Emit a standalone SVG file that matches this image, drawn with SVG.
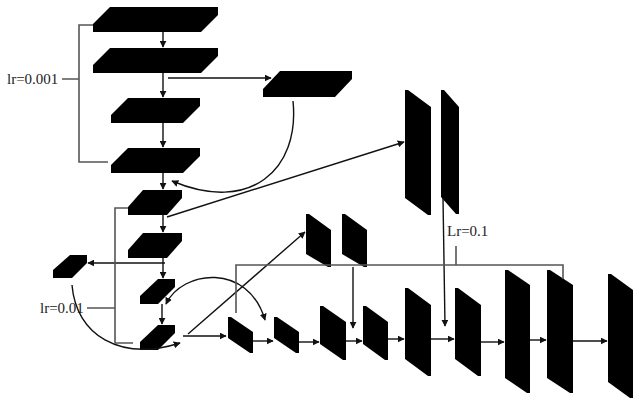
<svg xmlns="http://www.w3.org/2000/svg" width="635" height="400" viewBox="0 0 635 400">
<style>
.n{fill:#000;stroke:none}
.c{fill:none;stroke:#111;stroke-width:1.4}
.a{fill:none;stroke:#111;stroke-width:1.4;marker-end:url(#ah)}
.b{fill:none;stroke:#555;stroke-width:1.6}
.t{font-family:"Liberation Serif",serif;font-size:15px;fill:#222}
</style>
<defs>
<marker id="ah" viewBox="0 0 10 10" refX="9" refY="5" markerWidth="7" markerHeight="7" markerUnits="userSpaceOnUse" orient="auto-start-reverse">
<path d="M0,0 L10,5 L0,10 z" fill="#111"/>
</marker>
</defs>
<rect width="635" height="400" fill="#fff"/>
<g id="f1"><polygon class="n" points="110,7 218,7 218,15 201,32 93,32 93,24"/></g>
<g id="f2"><polygon class="n" points="110,48 218,48 218,56 201,73 93,73 93,65"/></g>
<g id="f3"><polygon class="n" points="128,98 200,98 200,106 183,123 111,123 111,115"/></g>
<g id="f4"><polygon class="n" points="128,148 200,148 200,156 183,173 111,173 111,165"/></g>
<g id="f5"><polygon class="n" points="143,190 182,190 182,198 167,215 128,215 128,207"/></g>
<g id="f6"><polygon class="n" points="143,233 182,233 182,241 167,258 128,258 128,250"/></g>
<g id="f7"><polygon class="n" points="158,279 175,279 175,287 158,304 140,304 140,296"/></g>
<g id="f8"><polygon class="n" points="158,325 175,325 175,333 158,350 140,350 140,342"/></g>
<g id="fr"><polygon class="n" points="280,71 352,71 352,79 335,97 263,97 263,89"/></g>
<g id="fl"><polygon class="n" points="70,255 87,255 87,263 72,278 53,278 53,270"/></g>
<g id="s1"><polygon class="n" points="228,317 231,317 253,332 253,353 250,353 228,338"/></g>
<g id="s2"><polygon class="n" points="274,317 277,317 299,332 299,353 296,353 274,338"/></g>
<g id="s3"><polygon class="n" points="320,306 323,306 346,322 346,360 343,360 320,344"/></g>
<g id="s4"><polygon class="n" points="363,306 366,306 388,322 388,360 385,360 363,344"/></g>
<g id="s5"><polygon class="n" points="405,288 408,288 431,305 431,376 428,376 405,359"/></g>
<g id="s6"><polygon class="n" points="455,288 458,288 481,305 481,376 478,376 455,359"/></g>
<g id="s7"><polygon class="n" points="505,270 508,270 530,285 530,393 527,393 505,378"/></g>
<g id="s8"><polygon class="n" points="547,270 550,270 573,285 573,393 570,393 547,378"/></g>
<g id="s9"><polygon class="n" points="608,274 611,274 633,290 633,398 630,398 608,382"/></g>
<g id="uA"><polygon class="n" points="306,214 309,214 331,230 331,267 328,267 306,254"/></g>
<g id="uB"><polygon class="n" points="342,214 345,214 367,230 367,267 364,267 342,254"/></g>
<g id="tC"><polygon class="n" points="405,90 408,90 431,107 431,215 428,215 405,198"/></g>
<g id="tD"><polygon class="n" points="441,90 444,90 459,107 459,214 456,214 441,197"/></g>
<g id="labels">
<text class="t" x="7" y="84">lr=0.001</text>
<text class="t" x="40" y="313">lr=0.01</text>
<text class="t" x="447" y="236">Lr=0.1</text>
</g>
<g id="connectors">
<path class="a" d="M163,32 V47"/>
<path class="a" d="M163,73 V97"/>
<path class="a" d="M163,123 V147"/>
<path class="a" d="M163,173 V189"/>
<path class="a" d="M163,215 V232"/>
<path class="a" d="M163,258 V278"/>
<path class="a" d="M162,304 V324"/>
<path class="a" d="M168,78 H271"/>
<path class="a" d="M293,101 C300,170 250,214 172,181"/>
<path class="a" d="M167,217 L404,142"/>
<path class="a" d="M165,263 H88"/>
<path class="a" d="M72,285 C76,335 120,362 180,343"/>
<path class="a" style="marker-start:url(#ah)" d="M166,304 C182,270 248,262 265,320"/>
<path class="a" d="M183,336 H226"/>
<path class="a" d="M188,334 L305,232"/>
<path class="a" d="M353,267 V328"/>
<path class="a" d="M443,198 L445,326"/>
<path class="a" d="M253,341 H273"/>
<path class="a" d="M299,342 H319"/>
<path class="a" d="M346,341 H362"/>
<path class="a" d="M388,339 H404"/>
<path class="a" d="M431,339 H454"/>
<path class="a" d="M481,342 H504"/>
<path class="a" d="M530,340 H546"/>
<path class="a" d="M573,341 H607"/>
<path class="b" d="M93,25 H79 V162 H108 M62,79 H79"/>
<path class="b" d="M128,208 H115 V343 H133 M87,308 H115"/>
<path class="b" d="M236,313 V265 H563 V279 M456,246 V265"/>
</g>
</svg>
